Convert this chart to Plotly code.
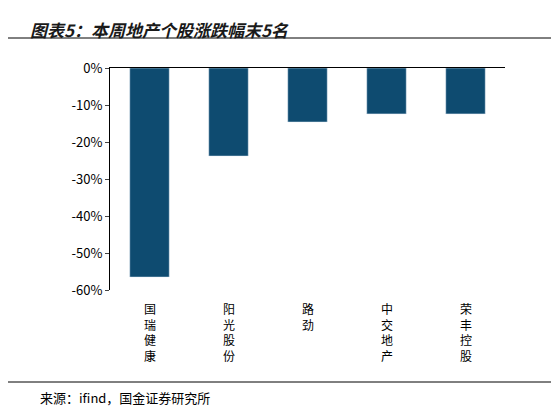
import plotly.graph_objects as go

categories = ["国瑞健康", "阳光股份", "路劲", "中交地产", "荣丰控股"]
values = [-56.5, -23.8, -14.6, -12.4, -12.4]
tick_vals = [0, -10, -20, -30, -40, -50, -60]
tick_text = ["0%", "-10%", "-20%", "-30%", "-40%", "-50%", "-60%"]

labels = ["<br>".join(list(c)) for c in categories]
font = "Noto Sans CJK SC"
L, R, T, B = 102, 62, 60, 129
W, H = 559 - L - R, 411 - T - B

fig = go.Figure(go.Bar(x=labels, y=values, marker_color="#0E4B70", width=0.5))
fig.update_layout(
    width=559, height=411, margin=dict(l=L, r=R, t=T, b=B),
    plot_bgcolor="white", paper_bgcolor="white", showlegend=False,
    font=dict(family=font, size=13, color="#000"),
    xaxis=dict(side="top", showline=True, linecolor="#000", ticks="", showticklabels=False),
    yaxis=dict(range=[-60, 0], tickvals=tick_vals, ticktext=tick_text, showline=True,
               linecolor="#000", ticks="outside", ticklen=4, showgrid=False, zeroline=False),
    annotations=[
        dict(text="<b><i>图表5：本周地产个股涨跌幅末5名</i></b>", x=-L/W + 20/W, y=1 + 53/H,
             xref="paper", yref="paper", xanchor="left", yanchor="top", showarrow=False,
             font=dict(size=17, color="#1a1a1a")),
        dict(text="来源：ifind，国金证券研究所", x=-L/W + 30/W, y=-(411 - T - H - 22)/H - 0.0,
             xref="paper", yref="paper", xanchor="left", yanchor="top", showarrow=False,
             font=dict(size=13)),
    ] + [dict(text=l, x=l, y=-60, xref="x", yref="y", yanchor="top", showarrow=False,
              yshift=-8, font=dict(size=12)) for l in labels],
    shapes=[
        dict(type="line", xref="paper", yref="paper", x0=-L/W, x1=1 + R/W,
             y0=1 + 30/H, y1=1 + 30/H, line=dict(color="#000", width=1)),
        dict(type="line", xref="paper", yref="paper", x0=-L/W, x1=1 + R/W,
             y0=-92/H, y1=-92/H, line=dict(color="#000", width=1)),
    ],
)
fig.update_annotations(selector=dict(text="来源：ifind，国金证券研究所"), y=-96/H)
fig.write_html("out.html")
